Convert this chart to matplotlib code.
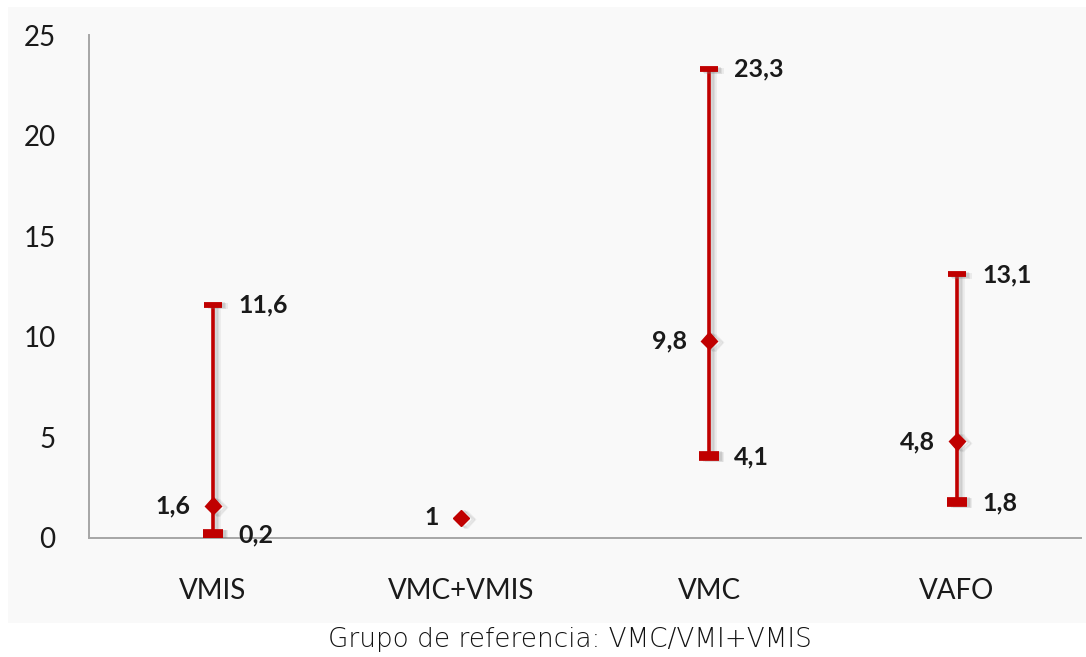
import matplotlib
matplotlib.use("Agg")
import matplotlib.pyplot as plt
import matplotlib.patheffects as pe
from matplotlib.patches import Rectangle

# Odds-ratio style summary: point estimate with lower / upper limits
groups = ["VMIS", "VMC+VMIS", "VMC", "VAFO"]
point = [1.6, 1.0, 9.8, 4.8]
lower = [0.2, None, 4.1, 1.8]
upper = [11.6, None, 23.3, 13.1]
caption = "Grupo de referencia: VMC/VMI+VMIS"

RED = "#C00000"
AXIS_GRAY = "#A6A6A6"
PANEL = "#F9F9F9"

plt.rcParams["font.family"] = ["Lato", "DejaVu Sans"]


def fmt(v):
    s = f"{v:g}"
    return s.replace(".", ",")


def shadow():
    return [pe.SimpleLineShadow(offset=(4, -1), shadow_color="#7f7f7f", alpha=0.12),
            pe.SimpleLineShadow(offset=(3, -1), shadow_color="#7f7f7f", alpha=0.15),
            pe.SimpleLineShadow(offset=(2, -0.5), shadow_color="#7f7f7f", alpha=0.18),
            pe.Normal()]


fig = plt.figure(figsize=(10.86, 6.57), dpi=100)
fig.patch.set_facecolor("white")
fig.patches.append(Rectangle((8 / 1086, 34 / 657), 1.0, (623 - 7) / 657,
                             transform=fig.transFigure, facecolor=PANEL,
                             edgecolor="none", zorder=-10))

ax = fig.add_axes([89 / 1086, 119 / 657, (1081 - 89) / 1086, (538 - 35) / 657])
ax.set_facecolor("none")
ax.set_zorder(1)

x = list(range(len(groups)))
for i in x:
    if lower[i] is not None:
        ax.plot([i, i], [lower[i], upper[i]], color=RED, lw=2.6,
                solid_capstyle="butt", path_effects=shadow(), zorder=3)
        # upper cap (thin dash) and lower cap (thick dash)
        ax.plot(i, upper[i], marker="_", ms=13, mew=4.2, color=RED,
                path_effects=shadow(), zorder=4)
        ax.plot(i, lower[i], marker="_", ms=14, mew=7, color=RED,
                path_effects=shadow(), zorder=4)
        ax.annotate(fmt(upper[i]), (i, upper[i]), xytext=(18, 0),
                    textcoords="offset points", ha="left", va="center",
                    fontsize=18, fontweight="bold", color="#1a1a1a")
        ax.annotate(fmt(lower[i]), (i, lower[i]), xytext=(18, -1),
                    textcoords="offset points", ha="left", va="center",
                    fontsize=18, fontweight="bold", color="#1a1a1a")
    ax.plot(i, point[i], marker="D", ms=8.5, color=RED, mec=RED,
            path_effects=shadow(), zorder=5)
    ax.annotate(fmt(point[i]), (i, point[i]), xytext=(-16, 0),
                textcoords="offset points", ha="right", va="center",
                fontsize=18, fontweight="bold", color="#1a1a1a")

ax.set_xlim(-0.5, len(groups) - 0.5)
ax.set_ylim(0, 25)
ax.set_yticks([0, 5, 10, 15, 20, 25])
ax.set_xticks(x)
ax.set_xticklabels(groups)
ax.tick_params(axis="both", length=0, labelsize=20, colors="#1a1a1a")
ax.tick_params(axis="y", pad=24)
ax.tick_params(axis="x", pad=29)

for side in ["top", "right"]:
    ax.spines[side].set_visible(False)
for side in ["left", "bottom"]:
    ax.spines[side].set_color(AXIS_GRAY)
    ax.spines[side].set_linewidth(1.4)

fig.text(570 / 1086, 18 / 657, caption, ha="center", va="center",
         fontsize=18.9, color="#111111", family=["DejaVu Sans"],
         fontweight="light")

fig.savefig("out.png", dpi=100)
